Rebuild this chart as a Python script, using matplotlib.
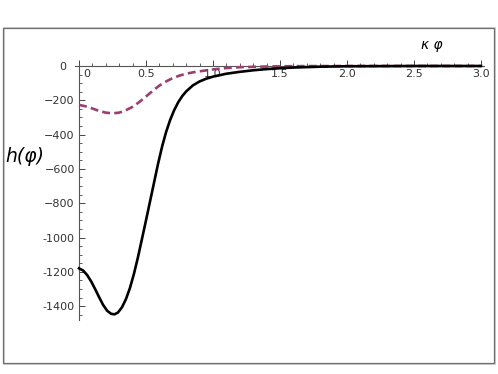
import matplotlib
matplotlib.use("Agg")
import matplotlib.pyplot as plt
from matplotlib.patches import Rectangle
from matplotlib.ticker import MultipleLocator, FixedLocator
import matplotlib.transforms as mtransforms

# ---- data ----
x_black = [0.00, 0.03, 0.06, 0.09, 0.12, 0.15, 0.18, 0.21, 0.24, 0.265, 0.29, 0.32,
           0.35, 0.38, 0.41, 0.44, 0.47, 0.50, 0.53, 0.56, 0.59, 0.62, 0.65, 0.68,
           0.71, 0.74, 0.77, 0.80, 0.85, 0.90, 0.95, 1.00, 1.10, 1.20, 1.30, 1.40,
           1.50, 1.60, 1.80, 2.00, 2.50, 3.00]
h_black = [-1180, -1192, -1218, -1255, -1300, -1348, -1393, -1427, -1445, -1448, -1438, -1408,
           -1360, -1295, -1212, -1115, -1008, -900, -790, -680, -570, -470, -385, -315,
           -258, -212, -176, -148, -113, -90, -74, -62, -45, -34, -25, -18,
           -13, -9, -4, -1.5, 0, 0]

x_magenta = [0.00, 0.05, 0.10, 0.15, 0.20, 0.25, 0.30, 0.35, 0.40, 0.45, 0.50, 0.55,
             0.60, 0.65, 0.70, 0.75, 0.80, 0.85, 0.90, 1.00, 1.10, 1.20, 1.40, 1.60,
             2.00, 3.00]
h_magenta = [-227, -235, -248, -262, -272, -276, -272, -258, -238, -210, -178, -145,
             -114, -90, -70, -56, -45, -37, -31, -20, -12, -7, -3, -1,
             0, 0]

x_ticks = [0.0, 0.5, 1.0, 1.5, 2.0, 2.5, 3.0]
x_tick_labels = ["0", "0.5", "1.0", "1.5", "2.0", "2.5", "3.0"]
y_ticks = [0, -200, -400, -600, -800, -1000, -1200, -1400]
y_tick_labels = ["0", "\u2212200", "\u2212400", "\u2212600", "\u2212800", "-1000", "-1200", "-1400"]

W, H = 498, 374
fig = plt.figure(figsize=(W / 100, H / 100), dpi=100)

# outer frame
fig.patches.append(Rectangle((4 / W, 1 - 364 / H), 491 / W, (364 - 28) / H,
                             transform=fig.transFigure, fill=False,
                             edgecolor="#c8c8c8", linewidth=1.2, zorder=0))
fig.patches.append(Rectangle((3 / W, 1 - 362.5 / H), 491 / W, (362.5 - 27.5) / H,
                             transform=fig.transFigure, fill=False,
                             edgecolor="#6e6e6e", linewidth=0.9, zorder=1))

# axes placement: x 0 -> px 79, 3 -> px 481 ; y 0 -> px 66, -1400 -> px 306
xl, xr = -0.03, 3.02
yb, yt = -1480, 22
px_x = lambda v: 79 + 134 * v
px_y = lambda v: 66 - 0.1715 * v
left = px_x(xl) / W
right = px_x(xr) / W
top = 1 - px_y(yt) / H
bottom = 1 - px_y(yb) / H
ax = fig.add_axes([left, bottom, right - left, top - bottom])
ax.set_xlim(xl, xr)
ax.set_ylim(yb, yt)
ax.patch.set_alpha(0)

for s in ["top", "right"]:
    ax.spines[s].set_visible(False)
ax.spines["bottom"].set_position(("data", 0))
ax.spines["left"].set_position(("data", 0))
ax.spines["left"].set_bounds(yb, 10)
for s in ["bottom", "left"]:
    ax.spines[s].set_color("#555555")
    ax.spines[s].set_linewidth(0.8)

ax.plot(x_magenta, h_magenta, color="#9b3d71", lw=1.9, linestyle=(0, (3.0, 1.6)),
        zorder=3, solid_capstyle="butt")
ax.plot(x_black, h_black, color="black", lw=1.9, zorder=4)

ax.xaxis.set_major_locator(FixedLocator(x_ticks))
ax.set_xticklabels(x_tick_labels)
ax.xaxis.set_minor_locator(MultipleLocator(0.1))
ax.yaxis.set_major_locator(FixedLocator(y_ticks))
ax.set_yticklabels(y_tick_labels)
ax.yaxis.set_minor_locator(MultipleLocator(50))

ax.tick_params(axis="both", which="major", direction="in", length=4.5, width=0.7,
               color="#444444", labelsize=8, labelcolor="#333333")
ax.tick_params(axis="both", which="minor", direction="in", length=2.5, width=0.6,
               color="#444444")
ax.tick_params(axis="x", which="major", pad=2.5)
ax.tick_params(axis="y", which="major", pad=3)

fig.canvas.draw()
# shift the "0" labels off the crossing as in the reference
xlabs = ax.get_xticklabels()
xlabs[0].set_transform(xlabs[0].get_transform() +
                       mtransforms.ScaledTranslation(8 / 100, 0, fig.dpi_scale_trans))
ylabs = ax.get_yticklabels()
ylabs[0].set_transform(ylabs[0].get_transform() +
                       mtransforms.ScaledTranslation(-9 / 100, 0, fig.dpi_scale_trans))

fig.text(5 / W, 1 - 157 / H, "h(\u03c6)", fontsize=13.5, style="italic",
         ha="left", va="center", color="black")
fig.text(432 / W, 1 - 45 / H, "\u03ba \u03c6", fontsize=10, style="italic",
         ha="center", va="center", color="black")

fig.savefig("out.png", dpi=100)
